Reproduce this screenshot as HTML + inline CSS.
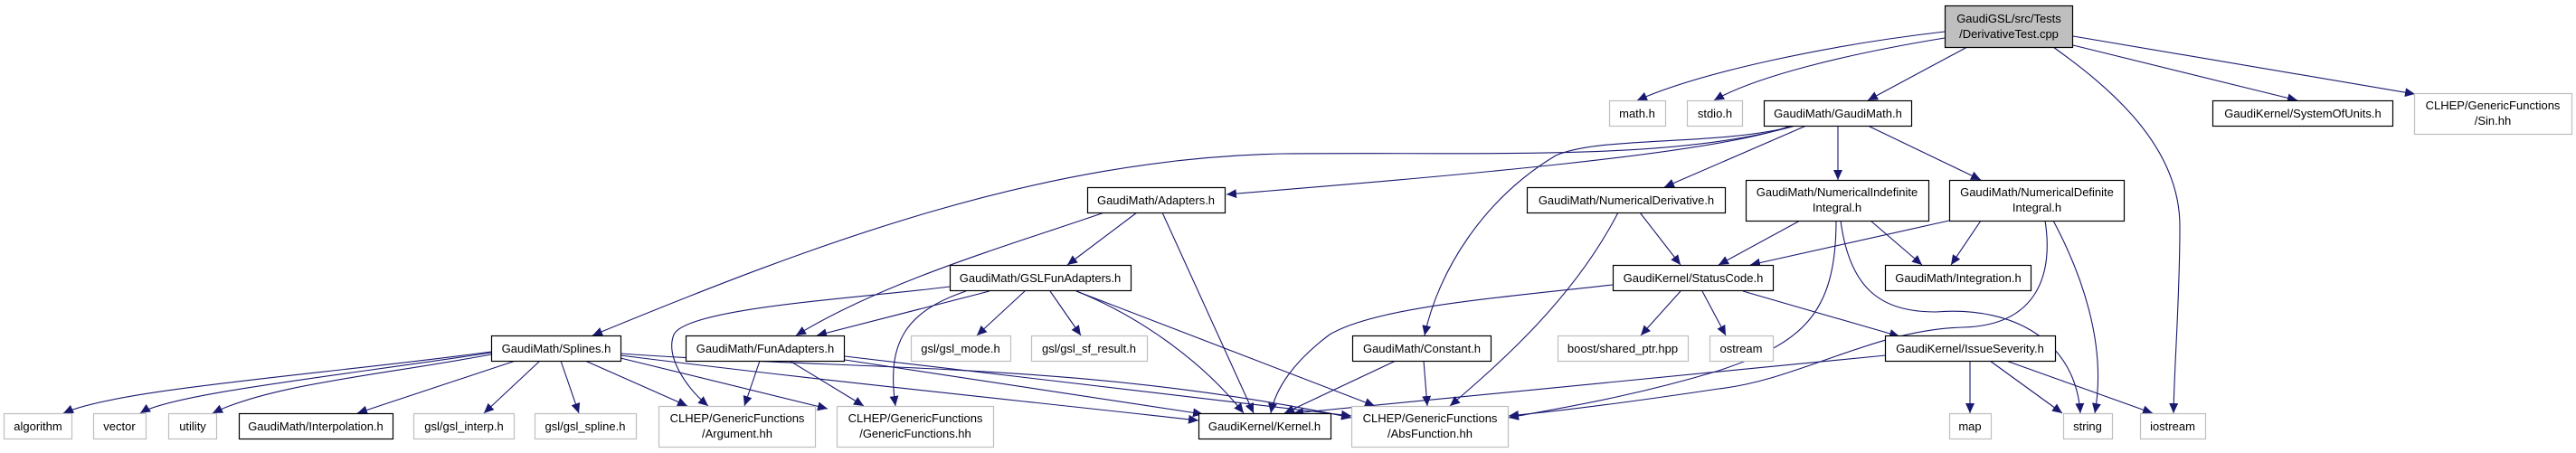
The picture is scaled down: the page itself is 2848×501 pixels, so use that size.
<!DOCTYPE html>
<html><head><meta charset="utf-8"><style>
html,body{margin:0;padding:0;background:#fff;}
svg{display:block;}
text{font-family:"Liberation Sans",sans-serif;font-size:13px;fill:#000;}
</style></head><body>
<svg width="2848" height="501" viewBox="0 0 2848 501" xmlns="http://www.w3.org/2000/svg">
<defs>
<marker id="a" markerUnits="userSpaceOnUse" markerWidth="12" markerHeight="10" refX="11" refY="5" orient="auto">
<path d="M0,0 L11,5 L0,10 Z" fill="#191970"/>
</marker>
</defs>
<g fill="none" stroke="#191970" stroke-width="1.1" marker-end="url(#a)">
<!-- root -->
<path d="M2150,35 C2020,50 1880,80 1810,111"/>
<path d="M2150,42 C2040,60 1940,85 1895,111"/>
<path d="M2175,52 L2065,111"/>
<path d="M2270,52 C2330,95 2410,160 2410,250 C2410,330 2404,400 2403,457"/>
<path d="M2292,50 L2540,111"/>
<path d="M2292,40 L2670,104"/>
<!-- GaudiMath.h -->
<path d="M1985,139 C1850,178 1650,168 1420,170 C1150,175 900,270 655,371"/>
<path d="M1980,139 C1900,170 1600,195 1356,215"/>
<path d="M1985,139 C1900,162 1770,150 1720,172 C1640,220 1590,300 1575,371"/>
<path d="M1997,139 L1840,207"/>
<path d="M2032,139 L2032,199"/>
<path d="M2065,139 L2190,199"/>
<!-- Adapters.h -->
<path d="M1221,235 C1120,270 980,310 880,371"/>
<path d="M1257,235 L1180,293"/>
<path d="M1285,235 L1386,457"/>
<!-- GSLFunAdapters -->
<path d="M1050,317 C950,330 760,340 745,370 C735,395 760,430 783,449"/>
<path d="M1094,322 L903,371"/>
<path d="M1068,322 C1000,345 980,380 990,449"/>
<path d="M1133,322 L1080,371"/>
<path d="M1161,322 L1195,371"/>
<path d="M1190,322 C1260,350 1330,400 1375,457"/>
<path d="M1190,322 L1520,449"/>
<!-- FunAdapters -->
<path d="M840,399 L823,449"/>
<path d="M873,399 L955,449"/>
<path d="M934,398 L1330,458"/>
<path d="M934,394 L1494,460"/>
<!-- Splines -->
<path d="M543,389 C350,415 130,430 70,457"/>
<path d="M543,390 C380,415 190,435 155,457"/>
<path d="M543,392 C420,415 300,425 235,457"/>
<path d="M570,399 L395,457"/>
<path d="M597,399 L535,457"/>
<path d="M620,399 L640,457"/>
<path d="M647,399 L760,449"/>
<path d="M686,396 L915,452"/>
<path d="M686,393 C900,420 1100,440 1325,465"/>
<path d="M686,391 C950,410 1200,400 1494,462"/>
<!-- NumericalDerivative -->
<path d="M1813,235 L1858,293"/>
<path d="M1789,235 C1740,330 1660,400 1603,449"/>
<!-- NumIndefinite -->
<path d="M1990,244 L1900,293"/>
<path d="M2068,244 L2125,293"/>
<path d="M2035,244 C2045,320 2080,345 2140,345 C2230,338 2295,380 2300,457"/>
<path d="M2030,244 C2030,350 1990,380 1900,410 C1800,440 1720,452 1668,462"/>
<!-- NumDefinite -->
<path d="M2155,244 L1935,293"/>
<path d="M2190,244 L2157,293"/>
<path d="M2270,244 C2300,300 2330,380 2316,457"/>
<path d="M2261,244 C2270,300 2255,360 2170,362 C2070,365 1990,420 1900,430 C1800,445 1720,455 1668,460"/>
<!-- StatusCode -->
<path d="M1783,315 C1650,330 1520,340 1470,370 C1430,400 1410,430 1405,457"/>
<path d="M1858,322 L1814,371"/>
<path d="M1882,322 L1908,371"/>
<path d="M1927,322 L2100,372"/>
<!-- IssueSeverity -->
<path d="M2085,393 L1430,457"/>
<path d="M2178,399 L2178,457"/>
<path d="M2200,399 L2280,457"/>
<path d="M2218,399 L2380,457"/>
<!-- Constant -->
<path d="M1543,399 L1420,457"/>
<path d="M1574,399 L1578,449"/>
</g>
<!-- nodes -->
<g stroke-width="1.2">
<rect x="2150.5" y="6.5" width="141" height="46" fill="#bfbfbf" stroke="#000"/>
<g fill="#fff" stroke="#000">
<rect x="1950.5" y="111.5" width="163" height="28"/>
<rect x="2446.5" y="111.5" width="199" height="28"/>
<rect x="1202.5" y="207.5" width="152" height="28"/>
<rect x="1688.5" y="207.5" width="219" height="28"/>
<rect x="1930.5" y="199.5" width="202" height="45"/>
<rect x="2155.5" y="199.5" width="193" height="45"/>
<rect x="1050.5" y="293.5" width="200" height="28"/>
<rect x="1783.5" y="293.5" width="177" height="28"/>
<rect x="2084.5" y="293.5" width="161" height="28"/>
<rect x="543.5" y="371.5" width="143" height="28"/>
<rect x="758.5" y="371.5" width="175" height="28"/>
<rect x="1495.5" y="371.5" width="153" height="28"/>
<rect x="2084.5" y="371.5" width="188" height="28"/>
<rect x="264.5" y="457.5" width="170" height="28"/>
<rect x="1325.5" y="457.5" width="146" height="28"/>
</g>
<g fill="#fff" stroke="#bfbfbf">
<rect x="1779.5" y="111.5" width="62" height="28"/>
<rect x="1865.5" y="111.5" width="61" height="28"/>
<rect x="2669.5" y="103.5" width="174" height="45"/>
<rect x="1007.5" y="371.5" width="110" height="28"/>
<rect x="1140.5" y="371.5" width="128" height="28"/>
<rect x="1722.5" y="371.5" width="144" height="28"/>
<rect x="1890.5" y="371.5" width="70" height="28"/>
<rect x="4.5" y="457.5" width="75" height="28"/>
<rect x="103.5" y="457.5" width="58" height="28"/>
<rect x="186.5" y="457.5" width="53" height="28"/>
<rect x="457.5" y="457.5" width="111" height="28"/>
<rect x="591.5" y="457.5" width="112" height="28"/>
<rect x="728.5" y="449.5" width="173" height="45"/>
<rect x="925.5" y="449.5" width="173" height="45"/>
<rect x="1494.5" y="449.5" width="173" height="45"/>
<rect x="2155.5" y="457.5" width="46" height="28"/>
<rect x="2281.5" y="457.5" width="54" height="28"/>
<rect x="2366.5" y="457.5" width="72" height="28"/>
</g>
</g>
<g text-anchor="middle">
<text x="2221" y="25">GaudiGSL/src/Tests</text>
<text x="2221" y="42">/DerivativeTest.cpp</text>
<text x="2032" y="130">GaudiMath/GaudiMath.h</text>
<text x="2546" y="130">GaudiKernel/SystemOfUnits.h</text>
<text x="1810" y="130">math.h</text>
<text x="1896" y="130">stdio.h</text>
<text x="2756" y="121">CLHEP/GenericFunctions</text>
<text x="2756" y="138">/Sin.hh</text>
<text x="1278" y="226">GaudiMath/Adapters.h</text>
<text x="1798" y="226">GaudiMath/NumericalDerivative.h</text>
<text x="2031" y="217">GaudiMath/NumericalIndefinite</text>
<text x="2031" y="234">Integral.h</text>
<text x="2252" y="217">GaudiMath/NumericalDefinite</text>
<text x="2252" y="234">Integral.h</text>
<text x="1150" y="312">GaudiMath/GSLFunAdapters.h</text>
<text x="1872" y="312">GaudiKernel/StatusCode.h</text>
<text x="2165" y="312">GaudiMath/Integration.h</text>
<text x="615" y="390">GaudiMath/Splines.h</text>
<text x="846" y="390">GaudiMath/FunAdapters.h</text>
<text x="1062" y="390">gsl/gsl_mode.h</text>
<text x="1204" y="390">gsl/gsl_sf_result.h</text>
<text x="1572" y="390">GaudiMath/Constant.h</text>
<text x="1794" y="390">boost/shared_ptr.hpp</text>
<text x="1925" y="390">ostream</text>
<text x="2178" y="390">GaudiKernel/IssueSeverity.h</text>
<text x="42" y="476">algorithm</text>
<text x="132" y="476">vector</text>
<text x="213" y="476">utility</text>
<text x="349" y="476">GaudiMath/Interpolation.h</text>
<text x="513" y="476">gsl/gsl_interp.h</text>
<text x="647" y="476">gsl/gsl_spline.h</text>
<text x="815" y="467">CLHEP/GenericFunctions</text>
<text x="815" y="484">/Argument.hh</text>
<text x="1012" y="467">CLHEP/GenericFunctions</text>
<text x="1012" y="484">/GenericFunctions.hh</text>
<text x="1398" y="476">GaudiKernel/Kernel.h</text>
<text x="1581" y="467">CLHEP/GenericFunctions</text>
<text x="1581" y="484">/AbsFunction.hh</text>
<text x="2178" y="476">map</text>
<text x="2308" y="476">string</text>
<text x="2402" y="476">iostream</text>
</g>
</svg>
</body></html>
